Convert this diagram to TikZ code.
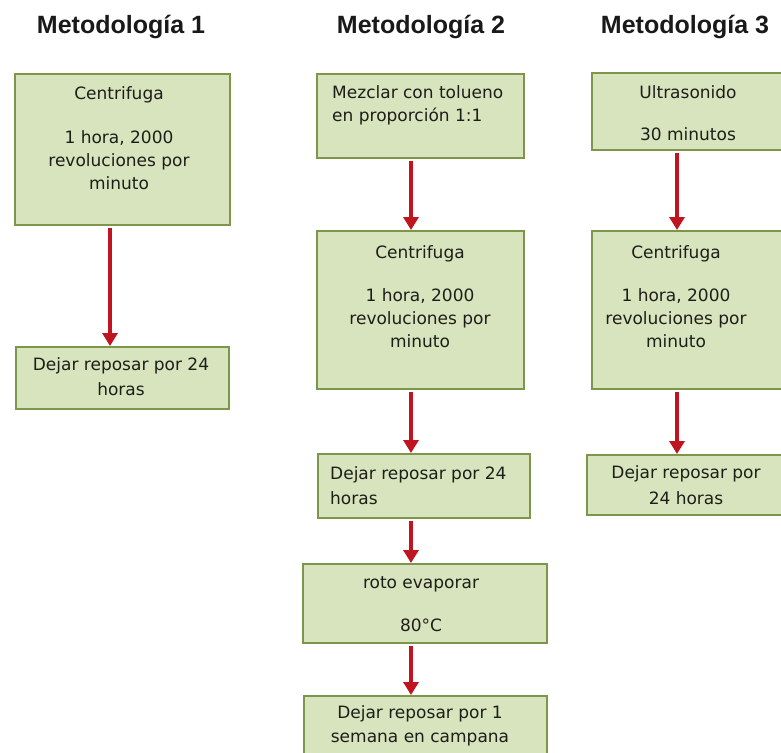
\documentclass[tikz,border=0pt]{standalone}
\usepackage{fontspec}
\setmainfont{DejaVu Sans}
\newfontfamily\titlefont{Liberation Sans}
\usetikzlibrary{arrows.meta}
\definecolor{boxfill}{RGB}{215,228,189}
\definecolor{boxline}{RGB}{125,150,75}
\definecolor{arrred}{RGB}{192,20,30}
\definecolor{txtcol}{RGB}{30,30,25}
\begin{document}
\begin{tikzpicture}[x=1pt,y=1pt,
  box/.style={draw=boxline, fill=boxfill, line width=1.6pt, inner sep=0pt, anchor=north west},
  lbl/.style={text=txtcol, font=\fontsize{17}{23}\selectfont, inner sep=0pt, align=center},
  lbll/.style={lbl, align=left, anchor=west},
  ttl/.style={font=\titlefont\bfseries\fontsize{25}{30}\selectfont, inner sep=0pt, anchor=base, text=black!90},
  flow/.style={draw=arrred, line width=3.4pt, shorten <=2pt, -{Triangle[width=15pt,length=13pt]}}]
\useasboundingbox (0,0) rectangle (781,-752);
\clip (0,0) rectangle (781,-752);
% titles
\node[ttl] (t1) at (121,-34) {Metodología 1};
\node[ttl] (t2) at (421,-34) {Metodología 2};
\node[ttl] (t3) at (685,-34) {Metodología 3};
% column 1
\node[box, minimum width=215pt, minimum height=151pt] (a1) at (14,-73) {};
\node[lbl] (a1t) at (119,-138) {Centrifuga\\[21pt]1 hora, 2000\\revoluciones por\\minuto};
\node[box, minimum width=213pt, minimum height=62pt] (a2) at (15,-346) {};
\node[lbl] (a2t) at (121,-377) {Dejar reposar por 24\\[2pt]horas};
% column 2
\node[box, minimum width=207pt, minimum height=84pt] (b1) at (316,-73) {};
\node[lbll] (b1t) at (332,-105) {Mezclar con tolueno\\en proporción 1:1};
\node[box, minimum width=207pt, minimum height=158pt] (b2) at (316,-230) {};
\node[lbl] (b2t) at (420,-296.5) {Centrifuga\\[20pt]1 hora, 2000\\revoluciones por\\minuto};
\node[box, minimum width=212pt, minimum height=64pt] (b3) at (317,-453) {};
\node[lbll] (b3t) at (330,-485.5) {Dejar reposar por 24\\[2pt]horas};
\node[box, minimum width=244pt, minimum height=79pt] (b4) at (302,-563) {};
\node[lbl] (b4t) at (421,-604.5) {roto evaporar\\[20pt]80°C};
\node[box, minimum width=243pt, minimum height=70pt] (b5) at (303,-695) {};
\node[lbl] (b5t) at (420,-726) {Dejar reposar por 1\\[1pt]semana en campana};
% column 3
\node[box, minimum width=200pt, minimum height=77pt] (c1) at (591,-72) {};
\node[lbl] (c1t) at (688,-113) {Ultrasonido\\[19pt]30 minutos};
\node[box, minimum width=200pt, minimum height=158pt] (c2) at (591,-230) {};
\node[lbl] (c2t) at (676,-296.5) {Centrifuga\\[20pt]1 hora, 2000\\revoluciones por\\minuto};
\node[box, minimum width=205pt, minimum height=60pt] (c3) at (586,-454) {};
\node[lbl] (c3t) at (686,-485) {Dejar reposar por\\[3pt]24 horas};
% arrows
\draw[flow] (a1.south -| 110,0) -- (a2.north -| 110,0);
\draw[flow] (b1.south -| 411,0) -- (b2.north -| 411,0);
\draw[flow] (b2.south -| 411,0) -- (b3.north -| 411,0);
\draw[flow] (b3.south -| 411,0) -- (b4.north -| 411,0);
\draw[flow] (b4.south -| 411,0) -- (b5.north -| 411,0);
\draw[flow] (c1.south -| 677,0) -- (c2.north -| 677,0);
\draw[flow] (c2.south -| 677,0) -- (c3.north -| 677,0);
\end{tikzpicture}
\end{document}
